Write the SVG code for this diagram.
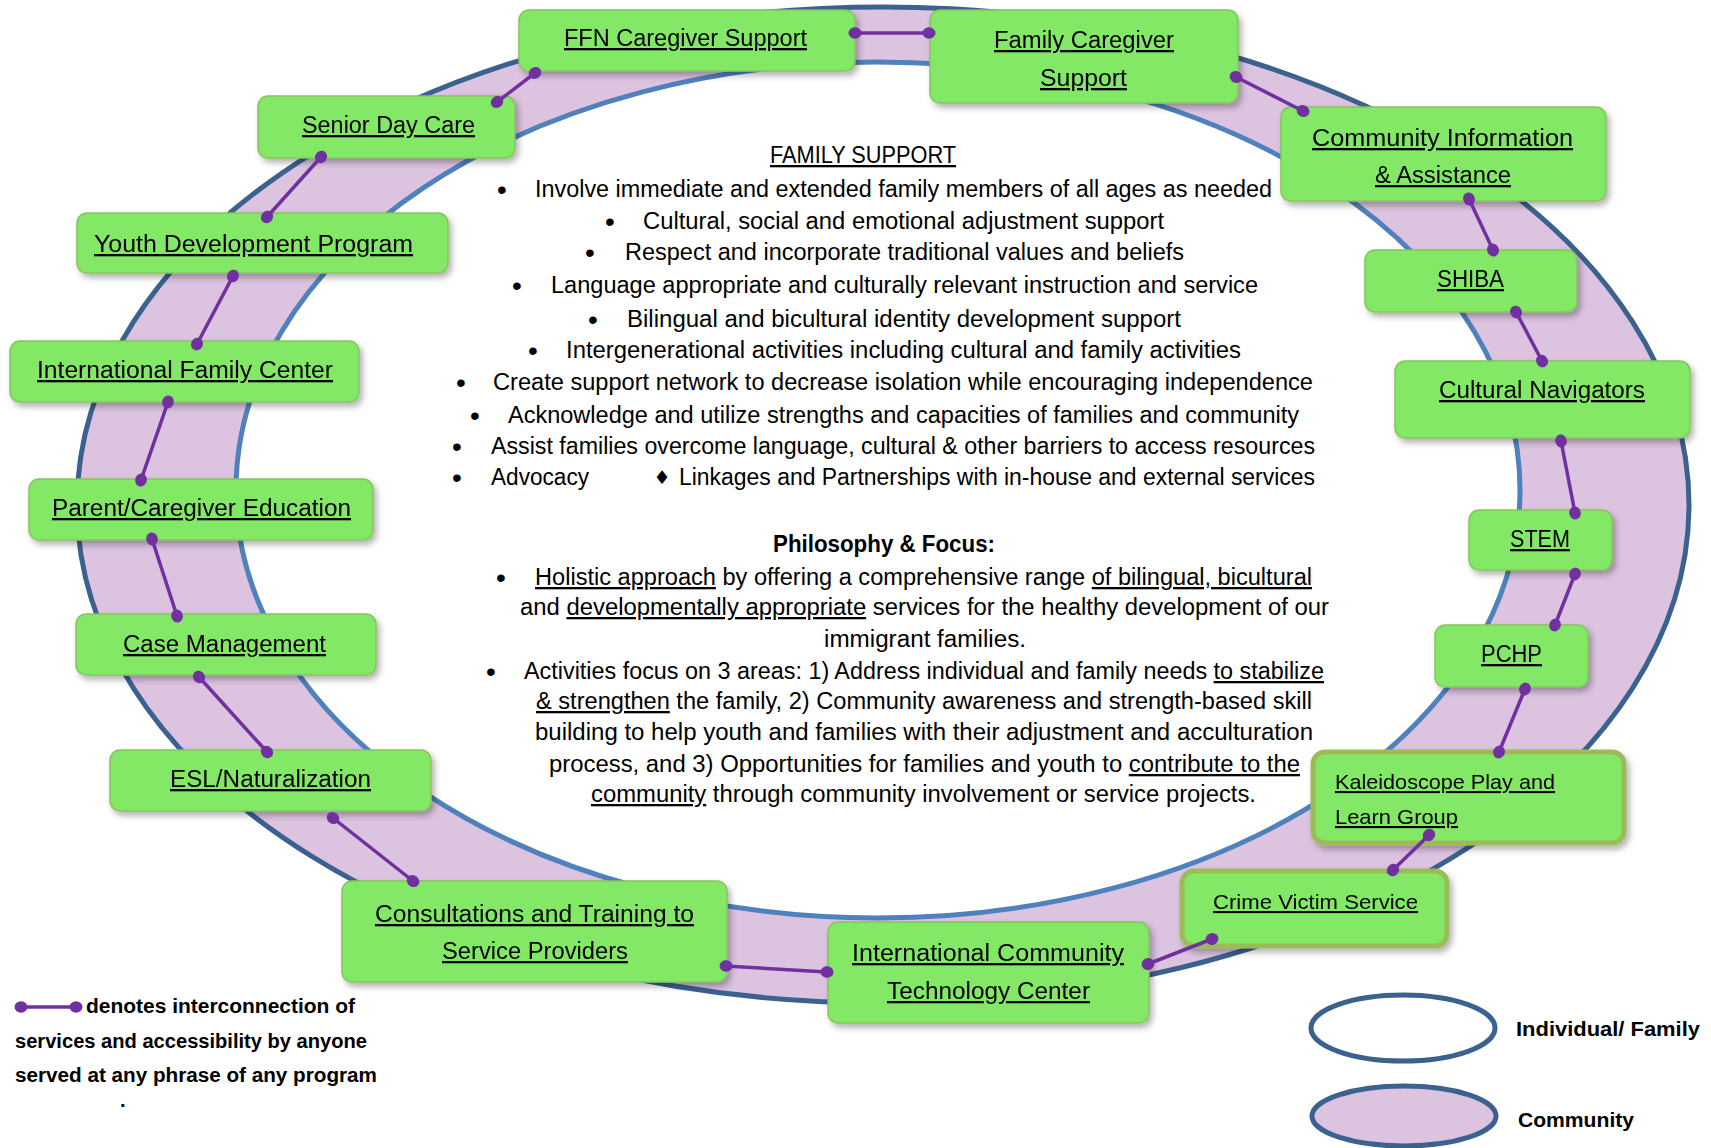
<svg xmlns="http://www.w3.org/2000/svg" width="1711" height="1148" viewBox="0 0 1711 1148">
<defs>
<style>
text{font-family:"Liberation Sans",Arial,sans-serif;fill:#000}
.lbl{font-size:23px;text-decoration:underline}
.lbl2{font-size:21px;text-decoration:underline}
.body{font-size:23px}
.bul{font-size:28px}
.u{text-decoration:underline}
.leg{font-size:20px;font-weight:bold}
.box{fill:#82e866;stroke:#86c45c;stroke-width:1.5}
.boxo{fill:#82e866;stroke:#9bbb59;stroke-width:5}
.con{stroke:#7030a0;stroke-width:3.5;fill:none;marker-start:url(#dot);marker-end:url(#dot)}
.dia{font-family:"DejaVu Sans",sans-serif;font-size:19px}
</style>
<marker id="dot" viewBox="-7 -7 14 14" markerWidth="14" markerHeight="14" refX="0" refY="0" orient="auto" markerUnits="userSpaceOnUse">
<ellipse cx="0" cy="0" rx="6.5" ry="5.8" fill="#7030a0"/>
</marker>
<filter id="sh" x="-10%" y="-20%" width="125%" height="150%">
<feDropShadow dx="3" dy="4" stdDeviation="3" flood-color="#000" flood-opacity="0.3"/>
</filter>
</defs>
<rect width="1711" height="1148" fill="#ffffff"/>

<g id="ring">
<ellipse cx="883" cy="505" rx="806" ry="498" fill="#dcc3e0" stroke="#3b618f" stroke-width="5"/>
<ellipse cx="878" cy="490" rx="642" ry="428" fill="#ffffff" stroke="#4f81bd" stroke-width="5"/>
</g>

<g id="n-ffn" filter="url(#sh)"><rect class="box" x="519" y="10" width="336" height="61" rx="10"/><text class="lbl" x="564" y="46" textLength="243" lengthAdjust="spacingAndGlyphs">FFN Caregiver Support</text></g>
<g id="n-family" filter="url(#sh)"><rect class="box" x="930" y="10" width="308" height="93" rx="10"/><text class="lbl" x="994" y="48" textLength="180" lengthAdjust="spacingAndGlyphs">Family Caregiver</text><text class="lbl" x="1040" y="86" textLength="87" lengthAdjust="spacingAndGlyphs">Support</text></g>
<g id="n-senior" filter="url(#sh)"><rect class="box" x="258" y="96" width="257" height="62" rx="10"/><text class="lbl" x="302" y="133" textLength="173" lengthAdjust="spacingAndGlyphs">Senior Day Care</text></g>
<g id="n-community-info" filter="url(#sh)"><rect class="box" x="1281" y="107" width="325" height="94" rx="10"/><text class="lbl" x="1312" y="146" textLength="261" lengthAdjust="spacingAndGlyphs">Community Information</text><text class="lbl" x="1375" y="183" textLength="136" lengthAdjust="spacingAndGlyphs">&amp; Assistance</text></g>
<g id="n-youth" filter="url(#sh)"><rect class="box" x="77" y="213" width="371" height="60" rx="10"/><text class="lbl" x="94" y="252" textLength="319" lengthAdjust="spacingAndGlyphs">Youth Development Program</text></g>
<g id="n-shiba" filter="url(#sh)"><rect class="box" x="1365" y="250" width="212" height="62" rx="10"/><text class="lbl" x="1437" y="287" textLength="67" lengthAdjust="spacingAndGlyphs">SHIBA</text></g>
<g id="n-ifc" filter="url(#sh)"><rect class="box" x="10" y="341" width="349" height="61" rx="10"/><text class="lbl" x="37" y="378" textLength="296" lengthAdjust="spacingAndGlyphs">International Family Center</text></g>
<g id="n-cultural" filter="url(#sh)"><rect class="box" x="1395" y="361" width="295" height="77" rx="10"/><text class="lbl" x="1439" y="398" textLength="206" lengthAdjust="spacingAndGlyphs">Cultural Navigators</text></g>
<g id="n-parent" filter="url(#sh)"><rect class="box" x="29" y="479" width="344" height="61" rx="10"/><text class="lbl" x="52" y="516" textLength="299" lengthAdjust="spacingAndGlyphs">Parent/Caregiver Education</text></g>
<g id="n-stem" filter="url(#sh)"><rect class="box" x="1469" y="510" width="143" height="60" rx="10"/><text class="lbl" x="1510" y="547" textLength="60" lengthAdjust="spacingAndGlyphs">STEM</text></g>
<g id="n-case" filter="url(#sh)"><rect class="box" x="76" y="614" width="300" height="61" rx="10"/><text class="lbl" x="123" y="652" textLength="203" lengthAdjust="spacingAndGlyphs">Case Management</text></g>
<g id="n-pchp" filter="url(#sh)"><rect class="box" x="1435" y="625" width="153" height="62" rx="10"/><text class="lbl" x="1481" y="662" textLength="61" lengthAdjust="spacingAndGlyphs">PCHP</text></g>
<g id="n-esl" filter="url(#sh)"><rect class="box" x="110" y="750" width="321" height="61" rx="10"/><text class="lbl" x="170" y="787" textLength="201" lengthAdjust="spacingAndGlyphs">ESL/Naturalization</text></g>
<g id="n-kaleidoscope" filter="url(#sh)"><rect class="boxo" x="1313" y="752" width="311" height="91" rx="12"/><text class="lbl2" x="1335" y="789" textLength="220" lengthAdjust="spacingAndGlyphs">Kaleidoscope Play and</text><text class="lbl2" x="1335" y="824" textLength="123" lengthAdjust="spacingAndGlyphs">Learn Group</text></g>
<g id="n-crime" filter="url(#sh)"><rect class="boxo" x="1182" y="871" width="265" height="75" rx="12"/><text class="lbl2" x="1213" y="909" textLength="205" lengthAdjust="spacingAndGlyphs">Crime Victim Service</text></g>
<g id="n-consult" filter="url(#sh)"><rect class="box" x="342" y="881" width="385" height="101" rx="10"/><text class="lbl" x="375" y="922" textLength="319" lengthAdjust="spacingAndGlyphs">Consultations and Training to</text><text class="lbl" x="442" y="959" textLength="186" lengthAdjust="spacingAndGlyphs">Service Providers</text></g>
<g id="n-ictc" filter="url(#sh)"><rect class="box" x="828" y="922" width="321" height="101" rx="10"/><text class="lbl" x="852" y="961" textLength="272" lengthAdjust="spacingAndGlyphs">International Community</text><text class="lbl" x="887" y="999" textLength="203" lengthAdjust="spacingAndGlyphs">Technology Center</text></g>

<g id="connectors">
<line class="con" x1="855" y1="33" x2="929" y2="33"/>
<line class="con" x1="497" y1="102" x2="535" y2="73"/>
<line class="con" x1="1236" y1="77" x2="1303" y2="111"/>
<line class="con" x1="321" y1="157" x2="267" y2="217"/>
<line class="con" x1="233" y1="276" x2="197" y2="344"/>
<line class="con" x1="168" y1="402" x2="141" y2="480"/>
<line class="con" x1="152" y1="539" x2="177" y2="616"/>
<line class="con" x1="199" y1="677" x2="267" y2="752"/>
<line class="con" x1="333" y1="818" x2="413" y2="881"/>
<line class="con" x1="726" y1="966" x2="827" y2="972"/>
<line class="con" x1="1148" y1="964" x2="1212" y2="939"/>
<line class="con" x1="1393" y1="870" x2="1429" y2="835"/>
<line class="con" x1="1499" y1="752" x2="1525" y2="689"/>
<line class="con" x1="1555" y1="625" x2="1575" y2="574"/>
<line class="con" x1="1561" y1="441" x2="1575" y2="513"/>
<line class="con" x1="1516" y1="312" x2="1542" y2="361"/>
<line class="con" x1="1469" y1="199" x2="1493" y2="250"/>
<line class="con" x1="21" y1="1007" x2="76" y2="1007"/>
</g>

<g id="family-support">
<text class="body u" x="770" y="163" textLength="186" lengthAdjust="spacingAndGlyphs">FAMILY SUPPORT</text>
<text class="bul" x="502" y="199" text-anchor="middle">•</text><text class="body" x="535" y="197" textLength="737" lengthAdjust="spacingAndGlyphs">Involve immediate and extended family members of all ages as needed</text>
<text class="bul" x="610" y="231" text-anchor="middle">•</text><text class="body" x="643" y="229" textLength="521" lengthAdjust="spacingAndGlyphs">Cultural, social and emotional adjustment support</text>
<text class="bul" x="590" y="262" text-anchor="middle">•</text><text class="body" x="625" y="260" textLength="559" lengthAdjust="spacingAndGlyphs">Respect and incorporate traditional values and beliefs</text>
<text class="bul" x="517" y="295" text-anchor="middle">•</text><text class="body" x="551" y="293" textLength="707" lengthAdjust="spacingAndGlyphs">Language appropriate and culturally relevant instruction and service</text>
<text class="bul" x="593" y="329" text-anchor="middle">•</text><text class="body" x="627" y="327" textLength="554" lengthAdjust="spacingAndGlyphs">Bilingual and bicultural identity development support</text>
<text class="bul" x="533" y="360" text-anchor="middle">•</text><text class="body" x="566" y="358" textLength="675" lengthAdjust="spacingAndGlyphs">Intergenerational activities including cultural and family activities</text>
<text class="bul" x="461" y="392" text-anchor="middle">•</text><text class="body" x="493" y="390" textLength="820" lengthAdjust="spacingAndGlyphs">Create support network to decrease isolation while encouraging independence</text>
<text class="bul" x="475" y="425" text-anchor="middle">•</text><text class="body" x="508" y="423" textLength="791" lengthAdjust="spacingAndGlyphs">Acknowledge and utilize strengths and capacities of families and community</text>
<text class="bul" x="457" y="456" text-anchor="middle">•</text><text class="body" x="491" y="454" textLength="824" lengthAdjust="spacingAndGlyphs">Assist families overcome language, cultural &amp; other barriers to access resources</text>
<text class="bul" x="457" y="487" text-anchor="middle">•</text><text class="body" x="491" y="485" textLength="98" lengthAdjust="spacingAndGlyphs">Advocacy</text>
<text class="dia" x="662" y="484" text-anchor="middle">♦</text><text class="body" x="679" y="485" textLength="636" lengthAdjust="spacingAndGlyphs">Linkages and Partnerships with in-house and external services</text>
</g>

<g id="philosophy">
<text class="body" x="773" y="552" font-weight="bold" textLength="222" lengthAdjust="spacingAndGlyphs">Philosophy &amp; Focus:</text>
<text class="bul" x="501" y="587" text-anchor="middle">•</text>
<text class="body" x="535" y="585" textLength="777" lengthAdjust="spacingAndGlyphs"><tspan class="u">Holistic approach</tspan> by offering a comprehensive range <tspan class="u">of bilingual, bicultural</tspan></text>
<text class="body" x="520" y="615" textLength="809" lengthAdjust="spacingAndGlyphs">and <tspan class="u">developmentally appropriate</tspan> services for the healthy development of our</text>
<text class="body" x="824" y="647" textLength="202" lengthAdjust="spacingAndGlyphs">immigrant families.</text>
<text class="bul" x="491" y="681" text-anchor="middle">•</text>
<text class="body" x="524" y="679" textLength="800" lengthAdjust="spacingAndGlyphs">Activities focus on 3 areas: 1) Address individual and family needs <tspan class="u">to stabilize</tspan></text>
<text class="body" x="536" y="709" textLength="776" lengthAdjust="spacingAndGlyphs"><tspan class="u">&amp; strengthen</tspan> the family, 2) Community awareness and strength-based skill</text>
<text class="body" x="535" y="740" textLength="778" lengthAdjust="spacingAndGlyphs">building to help youth and families with their adjustment and acculturation</text>
<text class="body" x="549" y="772" textLength="751" lengthAdjust="spacingAndGlyphs">process, and 3) Opportunities for families and youth to <tspan class="u">contribute to the</tspan></text>
<text class="body" x="591" y="802" textLength="665" lengthAdjust="spacingAndGlyphs"><tspan class="u">community</tspan> through community involvement or service projects.</text>
</g>

<g id="legend">
<text class="leg" x="86" y="1013" textLength="269" lengthAdjust="spacingAndGlyphs">denotes interconnection of</text>
<text class="leg" x="15" y="1048" textLength="352" lengthAdjust="spacingAndGlyphs">services and accessibility by anyone</text>
<text class="leg" x="15" y="1082" textLength="362" lengthAdjust="spacingAndGlyphs">served at any phrase of any program</text>
<text class="leg" x="120" y="1107">.</text>
<ellipse cx="1403" cy="1028" rx="92" ry="33" fill="#ffffff" stroke="#3b618f" stroke-width="5"/>
<text class="leg" x="1516" y="1036" textLength="184" lengthAdjust="spacingAndGlyphs">Individual/ Family</text>
<ellipse cx="1404" cy="1116" rx="92" ry="30" fill="#dcc3e0" stroke="#3b618f" stroke-width="5"/>
<text class="leg" x="1518" y="1127" textLength="116" lengthAdjust="spacingAndGlyphs">Community</text>
</g>
</svg>
